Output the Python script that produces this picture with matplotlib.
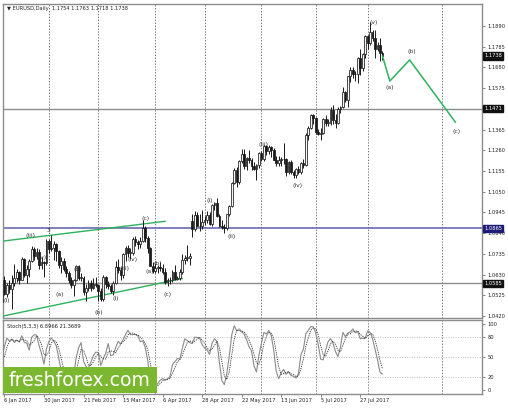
import matplotlib
matplotlib.use("Agg")
import matplotlib.pyplot as plt
from matplotlib.patches import Rectangle
import numpy as np

# ---------------- data (EURUSD daily) ----------------
# first 8 bars (27 Dec - 5 Jan) lie left of the visible area; they only feed the stochastic
lead_bars = 8
opens = [1.0455,1.0455,1.0410,1.0480,1.0515,1.0460,1.0405,1.0490,
         1.0605,1.0530,1.0575,1.0555,1.0585,1.0615,1.0645,1.0605,1.0710,1.0630,
         1.0660,1.0700,1.0760,1.0725,1.0745,1.0680,1.0695,1.0690,1.0800,1.0760,
         1.0765,1.0785,1.0750,1.0680,1.0700,1.0660,1.0640,1.0600,1.0575,1.0600,
         1.0675,1.0615,1.0615,1.0540,1.0560,1.0585,1.0560,1.0580,1.0575,1.0545,
         1.0505,1.0620,1.0580,1.0570,1.0545,1.0585,1.0670,1.0655,1.0630,1.0735,
         1.0765,1.0740,1.0740,1.0810,1.0795,1.0785,1.0800,1.0865,1.0815,1.0765,
         1.0675,1.0650,1.0665,1.0670,1.0665,1.0645,1.0590,1.0600,1.0605,1.0645,
         1.0610,1.0615,1.0645,1.0705,1.0715,1.0715,1.0900,1.0860,1.0930,1.0875,
         1.0875,1.0895,1.0905,1.0930,1.0885,1.0985,1.0995,1.0925,1.0875,1.0870,
         1.0865,1.0935,1.0980,1.1095,1.1160,1.1100,1.1205,1.1240,1.1180,1.1220,
         1.1210,1.1180,1.1165,1.1185,1.1245,1.1215,1.1280,1.1255,1.1275,1.1260,
         1.1210,1.1195,1.1210,1.1215,1.1215,1.1150,1.1200,1.1150,1.1135,1.1165,
         1.1150,1.1195,1.1185,1.1335,1.1375,1.1440,1.1425,1.1355,1.1345,1.1350,
         1.1420,1.1400,1.1400,1.1465,1.1415,1.1400,1.1470,1.1480,1.1555,1.1515,
         1.1635,1.1665,1.1645,1.1645,1.1730,1.1675,1.1750,1.1840,1.1805,1.1860,
         1.1830,1.1775,1.1795,1.1754]
highs = [1.0470,1.0475,1.0495,1.0655,1.0570,1.0490,1.0495,1.0615,
         1.0622,1.0585,1.0600,1.0628,1.0685,1.0660,1.0650,1.0720,1.0715,1.0680,
         1.0710,1.0775,1.0770,1.0765,1.0760,1.0720,1.0700,1.0810,1.0810,1.0830,
         1.0800,1.0790,1.0755,1.0720,1.0715,1.0675,1.0650,1.0620,1.0610,1.0680,
         1.0680,1.0640,1.0625,1.0580,1.0600,1.0600,1.0615,1.0620,1.0580,1.0560,
         1.0630,1.0625,1.0595,1.0580,1.0595,1.0700,1.0710,1.0670,1.0740,1.0775,
         1.0780,1.0765,1.0820,1.0825,1.0805,1.0820,1.0905,1.0875,1.0825,1.0770,
         1.0695,1.0690,1.0680,1.0695,1.0685,1.0665,1.0615,1.0620,1.0655,1.0680,
         1.0625,1.0660,1.0735,1.0730,1.0780,1.0740,1.0935,1.0950,1.0945,1.0935,
         1.0955,1.0925,1.0950,1.0945,1.0990,1.1000,1.1020,1.0935,1.0905,1.0885,
         1.0935,1.0985,1.1100,1.1170,1.1175,1.1210,1.1265,1.1268,1.1225,1.1260,
         1.1220,1.1200,1.1190,1.1250,1.1255,1.1285,1.1285,1.1285,1.1280,1.1270,
         1.1230,1.1230,1.1225,1.1296,1.1220,1.1205,1.1210,1.1160,1.1170,1.1180,
         1.1200,1.1215,1.1350,1.1385,1.1445,1.1445,1.1430,1.1370,1.1375,1.1425,
         1.1440,1.1420,1.1480,1.1490,1.1445,1.1480,1.1485,1.1580,1.1560,1.1635,
         1.1680,1.1680,1.1660,1.1735,1.1775,1.1755,1.1845,1.1845,1.1910,1.1870,
         1.1870,1.1810,1.1830,1.1763]
lows = [1.0420,1.0370,1.0410,1.0450,1.0455,1.0340,1.0385,1.0485,
        1.0524,1.0515,1.0535,1.0454,1.0570,1.0590,1.0580,1.0600,1.0620,1.0585,
        1.0620,1.0695,1.0705,1.0710,1.0660,1.0660,1.0620,1.0680,1.0740,1.0750,
        1.0705,1.0700,1.0665,1.0640,1.0650,1.0620,1.0585,1.0560,1.0520,1.0595,
        1.0605,1.0595,1.0525,1.0495,1.0545,1.0545,1.0555,1.0565,1.0495,1.0495,
        1.0495,1.0560,1.0555,1.0535,1.0525,1.0580,1.0640,1.0600,1.0615,1.0700,
        1.0720,1.0710,1.0730,1.0775,1.0760,1.0765,1.0795,1.0795,1.0740,1.0675,
        1.0640,1.0640,1.0640,1.0650,1.0635,1.0580,1.0570,1.0580,1.0590,1.0605,
        1.0605,1.0600,1.0635,1.0685,1.0700,1.0680,1.0820,1.0850,1.0880,1.0850,
        1.0860,1.0880,1.0890,1.0880,1.0875,1.0955,1.0920,1.0870,1.0860,1.0840,
        1.0855,1.0925,1.0975,1.1090,1.1075,1.1090,1.1195,1.1165,1.1160,1.1195,
        1.1160,1.1160,1.1110,1.1170,1.1205,1.1205,1.1235,1.1240,1.1225,1.1210,
        1.1180,1.1180,1.1180,1.1190,1.1130,1.1140,1.1140,1.1120,1.1120,1.1140,
        1.1140,1.1170,1.1180,1.1310,1.1370,1.1395,1.1345,1.1335,1.1310,1.1345,
        1.1385,1.1385,1.1390,1.1395,1.1375,1.1395,1.1450,1.1475,1.1505,1.1480,
        1.1605,1.1625,1.1610,1.1600,1.1640,1.1660,1.1730,1.1775,1.1795,1.1815,
        1.1730,1.1765,1.1715,1.1718]
closes = [1.0455,1.0410,1.0480,1.0520,1.0460,1.0405,1.0490,1.0605,
          1.0530,1.0575,1.0555,1.0585,1.0615,1.0645,1.0605,1.0710,1.0630,1.0660,
          1.0700,1.0760,1.0725,1.0745,1.0680,1.0695,1.0690,1.0800,1.0760,1.0765,
          1.0785,1.0750,1.0680,1.0700,1.0660,1.0640,1.0600,1.0575,1.0600,1.0675,
          1.0615,1.0615,1.0540,1.0560,1.0585,1.0560,1.0580,1.0575,1.0545,1.0505,
          1.0620,1.0580,1.0570,1.0545,1.0585,1.0670,1.0655,1.0630,1.0735,1.0765,
          1.0740,1.0740,1.0810,1.0795,1.0785,1.0800,1.0865,1.0815,1.0765,1.0675,
          1.0650,1.0665,1.0670,1.0665,1.0645,1.0590,1.0600,1.0605,1.0645,1.0610,
          1.0615,1.0645,1.0705,1.0715,1.0715,1.0725,1.0860,1.0930,1.0875,1.0875,
          1.0895,1.0905,1.0930,1.0885,1.0985,1.0995,1.0925,1.0875,1.0870,1.0865,
          1.0935,1.0980,1.1095,1.1160,1.1100,1.1205,1.1240,1.1180,1.1220,1.1210,
          1.1180,1.1165,1.1185,1.1245,1.1215,1.1280,1.1255,1.1275,1.1260,1.1210,
          1.1195,1.1210,1.1215,1.1215,1.1150,1.1200,1.1150,1.1135,1.1165,1.1150,
          1.1195,1.1185,1.1335,1.1375,1.1440,1.1425,1.1355,1.1345,1.1350,1.1420,
          1.1400,1.1400,1.1465,1.1415,1.1400,1.1470,1.1480,1.1555,1.1515,1.1635,
          1.1665,1.1645,1.1645,1.1730,1.1675,1.1750,1.1840,1.1805,1.1860,1.1830,
          1.1775,1.1795,1.1755,1.1738]

date_ticks = [0, 16, 32, 48, 64, 80, 96, 112, 128, 144]
date_labels = ["6 Jan 2017", "30 Jan 2017", "21 Feb 2017", "15 Mar 2017", "6 Apr 2017",
               "28 Apr 2017", "22 May 2017", "13 Jun 2017", "5 Jul 2017", "27 Jul 2017"]
month_lines = [18, 38, 61, 81, 104, 126, 147, 177]

price_ticks = [1.1890, 1.1785, 1.1680, 1.1575, 1.1365, 1.1260, 1.1155, 1.1050,
               1.0945, 1.0840, 1.0735, 1.0630, 1.0525, 1.0420]
level_gray = [1.1471, 1.0585]
level_blue = 1.0865

# trend channel (bar, price)
upper_line_x = [-0.5, 65]
upper_line_y = [1.0800, 1.0900]
lower_line_x = [-0.5, 72]
lower_line_y = [1.0420, 1.0610]

# projection path (a)-(b)-(c)
proj_x = [153, 156, 164, 182.5]
proj_y = [1.1738, 1.1611, 1.1718, 1.1403]

wave_labels = [("(i)", 1, 1.0500), ("(iii)", 10.7, 1.0830), ("(iv)", 15, 1.0717),
               ("3", 18, 1.0853), ("(a)", 22.5, 1.0531), ("(b)", 29.5, 1.0658),
               ("(b)", 38, 1.0440), ("(i)", 45, 1.0511), ("(iii)", 48.5, 1.0659),
               ("(iv)", 52, 1.0704), ("(c)", 57, 1.0916), ("(a)", 59, 1.0647),
               ("(b)", 62, 1.0687), ("(c)", 66, 1.0531), ("(i)", 83, 1.1008),
               ("(ii)", 92, 1.0825), ("(iii)", 105, 1.1291), ("(iv)", 118.5, 1.1084),
               ("(v)", 149.5, 1.1910), ("(a)", 156, 1.1577), ("(b)", 165, 1.1759),
               ("(c)", 183, 1.1353)]

# ---------------- stochastic (5,3,3) from price data ----------------
H = np.array(highs); L = np.array(lows); C = np.array(closes)
N = len(C)
num = np.full(N, np.nan); den = np.full(N, np.nan)
for i in range(4, N):
    ll = L[i-4:i+1].min(); hh = H[i-4:i+1].max()
    num[i] = C[i] - ll; den[i] = hh - ll
K = np.full(N, np.nan)
for i in range(6, N):
    K[i] = 100 * num[i-2:i+1].sum() / den[i-2:i+1].sum()
D = np.full(N, np.nan)
for i in range(8, N):
    D[i] = K[i-2:i+1].mean()
xs = np.arange(N) - lead_bars

# ---------------- figure ----------------
W, Hh = 508, 409
fig = plt.figure(figsize=(W/100, Hh/100), dpi=100)
fig.patch.set_facecolor("white")

x0, x1 = 3, 482
ax = fig.add_axes([x0/W, 1-318/Hh, (x1-x0)/W, (318-4)/Hh])
axs = fig.add_axes([x0/W, 1-394/Hh, (x1-x0)/W, (394-320)/Hh])

xmin, xmax = -0.6, 193.3
ax.set_xlim(xmin, xmax)
axs.set_xlim(xmin, xmax)
ax.set_ylim(1.04099, 1.20015)
axs.set_ylim(-6.06, 106.1)

frame_col = "#8c8c8c"
for a in (ax, axs):
    for s in a.spines.values():
        s.set_color(frame_col)
        s.set_linewidth(1.0)
    a.set_facecolor("white")

# month grid lines
for m in month_lines:
    for a in (ax, axs):
        a.axvline(m, color="#555555", lw=0.6, ls=(0, (1.5, 2)), zorder=1)

# levels
for lv in level_gray:
    ax.axhline(lv, color="#8c8c8c", lw=1.0, zorder=2)
ax.axhline(level_blue, color="#6a6ab0", lw=1.2, zorder=2)

# trend channel
ax.plot(upper_line_x, upper_line_y, color="#2db35d", lw=1.0, zorder=3)
ax.plot(lower_line_x, lower_line_y, color="#2db35d", lw=1.0, zorder=3)

# candles
bw = 0.72
for j in range(N):
    o, h, l, c = opens[j], highs[j], lows[j], closes[j]
    i = j - lead_bars
    ax.plot([i, i], [l, h], color="#1a1a1a", lw=0.7, zorder=4, solid_capstyle="butt")
    lo, hi = min(o, c), max(o, c)
    if hi - lo < 0.0003:
        hi = lo + 0.0003
    fc = "#f4f4f4" if c >= o else "#1a1a1a"
    ax.add_patch(Rectangle((i-bw/2, lo), bw, hi-lo, facecolor=fc,
                           edgecolor="#1a1a1a", lw=0.55, zorder=5))

# projection
ax.plot(proj_x, proj_y, color="#2db35d", lw=1.1, zorder=6)

# wave labels
for t, xb, yp in wave_labels:
    ax.text(xb, yp, t, fontsize=4.4, color="#333333", ha="center", va="center", zorder=7)

small = 3.7
# header
ax.text(0.008, 0.993, "\u25bc EURUSD,Daily  1.1754 1.1763 1.1718 1.1738", transform=ax.transAxes,
        fontsize=small, color="#222222", ha="left", va="top")

# right price axis
ax.yaxis.tick_right()
ax.set_yticks(price_ticks)
ax.set_yticklabels([f"{p:.4f}" for p in price_ticks])
ax.tick_params(axis="y", direction="out", length=2, width=0.5, colors="#555555",
               labelsize=small, labelcolor="#222222", pad=2)
ax.set_xticks([])

def tag(a, y, txt, bg):
    a.text(1.004, y, txt, transform=a.get_yaxis_transform(), fontsize=small, color="white",
           ha="left", va="center", zorder=10, clip_on=False,
           bbox=dict(boxstyle="square,pad=0.2", facecolor=bg, edgecolor=bg))

tag(ax, closes[-1], f"{closes[-1]:.4f}", "#111111")
tag(ax, level_gray[0], f"{level_gray[0]:.4f}", "#111111")
tag(ax, level_blue, f"{level_blue:.4f}", "#1c1c78")
tag(ax, level_gray[1], f"{level_gray[1]:.4f}", "#111111")

# stochastic panel
for g in (80, 50, 20):
    axs.axhline(g, color="#aaaaaa", lw=0.5, ls=(0, (1.5, 2)), zorder=1)
axs.plot(xs, K, color="#8a8a8a", lw=0.8, zorder=3)
axs.plot(xs, D, color="#333333", lw=0.6, ls=(0, (1.5, 1.2)), zorder=3)
axs.text(0.008, 0.95, "Stoch(5,3,3) 6.8966 21.3689", transform=axs.transAxes,
         fontsize=small, color="#222222", ha="left", va="top")
axs.yaxis.tick_right()
axs.set_yticks([100, 80, 50, 20, 0])
axs.set_yticklabels(["100", "80", "50", "20", "0"])
axs.tick_params(axis="y", direction="out", length=2, width=0.5, colors="#555555",
                labelsize=small, labelcolor="#222222", pad=2)
axs.set_xticks(date_ticks)
axs.set_xticklabels(date_labels, ha="left")
axs.tick_params(axis="x", direction="out", length=2, width=0.5, colors="#555555",
                labelsize=small, labelcolor="#222222", pad=1)

# logo
fig.patches.append(Rectangle((3/W, 1-393/Hh), 154/W, 26/Hh, transform=fig.transFigure,
                             facecolor="#7cb82f", edgecolor="none", zorder=20))
fig.text(80/W, 1-380/Hh, "freshforex.com", fontsize=13.6, color="white", ha="center",
         va="center", zorder=21)

fig.savefig("out.png", dpi=100)
